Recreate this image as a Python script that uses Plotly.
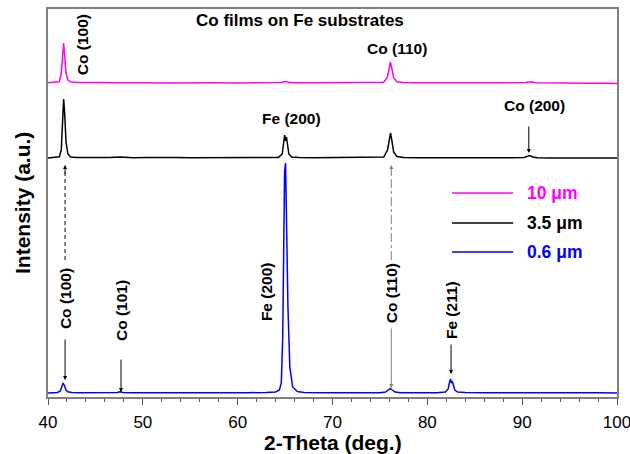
import plotly.graph_objects as go

# ---------------- data ----------------
series_names = ["10 μm", "3.5 μm", "0.6 μm"]
series_colors = ["#ff00ff", "#000000", "#0000ff"]
series_offsets = [310, 235, 0]

x_10um = [40, 40.5, 40.8, 41.2, 41.4, 41.55, 41.65, 41.75, 41.9, 42.1, 42.4, 43, 44, 45.5, 47, 48.5,
          50, 52, 54, 56, 58, 60, 62, 64, 64.6, 64.9, 65.1, 65.4, 66, 68, 70, 72, 74, 75.4, 75.8,
          76.0, 76.1, 76.25, 76.45, 76.8, 77.5, 79, 81, 83, 85, 87, 89, 90.3, 90.7, 91.0, 91.4,
          93, 95, 97, 99, 100]
y_10um = [4.2, 4.4, 4.5, 5.2, 14, 36, 44, 32, 14, 7, 5, 4.6, 4.3, 4.5, 4.2, 4.4,
          4.3, 4.1, 4.4, 4.2, 4.3, 4.1, 4.3, 4.2, 4.6, 5.2, 5.4, 4.7, 4.3, 4.2, 4.4, 4.1, 4.3, 4.8, 10,
          21, 25, 19, 9, 5.2, 4.5, 4.2, 4.3, 4.1, 4.2, 4.0, 4.1, 4.4, 5.0, 5.2, 4.3,
          4.0, 3.9, 3.8, 3.7, 3.6]

x_3p5um = [40, 40.5, 40.8, 41.2, 41.4, 41.55, 41.65, 41.75, 41.9, 42.1, 42.4, 43, 44, 45, 46.5, 47.6,
           49, 50.5, 52, 53.5, 55, 57, 59, 61, 63, 64.3, 64.7, 64.85, 64.95, 65.05, 65.15, 65.25,
           65.4, 65.7, 66.5, 68, 70, 72, 74, 75.4, 75.8, 76.0, 76.12, 76.25, 76.45, 76.8, 77.5,
           79, 81, 83, 85, 87, 89, 90.2, 90.6, 90.8, 91.1, 91.6, 93, 95, 97, 99, 100]
y_3p5um = [4.0, 4.3, 4.5, 5.2, 12, 40, 63, 50, 20, 8, 5, 4.5, 4.3, 4.8, 4.4, 4.9,
           4.3, 4.6, 4.2, 4.5, 4.3, 4.4, 4.2, 4.3, 4.4, 4.6, 8, 20, 27, 21, 25, 18,
           8, 5, 4.4, 4.2, 4.4, 4.2, 4.3, 5, 12, 24, 29, 22, 10, 5.5, 4.5,
           4.3, 4.2, 4.3, 4.1, 4.2, 4.3, 4.5, 6, 6.5, 5, 4.3, 4.1, 4.2, 4.0, 4.1, 4.0]

x_0p6um = [40, 40.5, 41.0, 41.3, 41.45, 41.6, 41.75, 41.9, 42.1, 42.5, 43.5, 45, 46.5, 47.3, 47.6,
           47.9, 49, 51, 53, 55, 57, 59, 61, 63, 64.0, 64.4, 64.6, 64.75, 64.85, 64.95, 65.05,
           65.15, 65.3, 65.5, 65.8, 66.3, 67, 69, 71, 73, 75, 75.6, 75.9, 76.1, 76.3, 76.6, 77.2,
           79, 81, 81.9, 82.2, 82.35, 82.45, 82.55, 82.65, 82.75, 82.9, 83.2, 84, 86, 88, 90,
           92, 94, 96, 98, 100]
y_0p6um = [4.0, 4.3, 4.5, 6, 10, 14, 11, 7, 5.2, 4.6, 4.2, 4.4, 4.3, 4.6, 5.2,
           4.6, 4.2, 4.1, 4.3, 4.5, 4.4, 4.2, 4.3, 4.5, 5, 7, 14, 60, 150, 226, 234,
           180, 90, 30, 10, 5.5, 4.6, 4.3, 4.2, 4.4, 4.3, 5, 7, 8.5, 7, 5, 4.3,
           4.2, 4.3, 5, 8, 15, 18, 14, 15, 12, 7, 5, 4.4, 4.2, 4.3, 4.1,
           4.2, 4.3, 4.1, 4.2, 4.0]

series_x = [x_10um, x_3p5um, x_0p6um]
series_y = [y_10um, y_3p5um, y_0p6um]

x_ticks = [40, 50, 60, 70, 80, 90, 100]

FONT = "Arial, 'Liberation Sans', Helvetica, sans-serif"
LBL = 15.5

fig = go.Figure()
for name, color, off, xs, ys in zip(series_names, series_colors, series_offsets, series_x, series_y):
    fig.add_trace(go.Scatter(x=xs, y=[v + off for v in ys], mode="lines", name=name,
                             line=dict(color=color, width=1.5), showlegend=False))

annotations = []
shapes = []

def txt(x, y, s, angle=0, size=LBL, color="black", xanchor="center", yanchor="middle"):
    annotations.append(dict(x=x, y=y, xref="x", yref="y", text="<b>%s</b>" % s, showarrow=False,
                            textangle=angle, font=dict(family=FONT, size=size, color=color),
                            xanchor=xanchor, yanchor=yanchor))

def arrow(x, y_head, y_tail, color="black"):
    annotations.append(dict(x=x, y=y_head, ax=x, ay=y_tail, xref="x", yref="y", axref="x", ayref="y",
                            text="", showarrow=True, arrowhead=2, arrowsize=0.8, arrowwidth=1,
                            arrowcolor=color))

def vline(x, y0, y1, color="black", dash="solid"):
    shapes.append(dict(type="line", xref="x", yref="y", x0=x, x1=x, y0=y0, y1=y1,
                       line=dict(color=color, width=1, dash=dash)))

# title
txt(66.6, 377, "Co films on Fe substrates", size=17)
# top-series labels
txt(43.6, 352, "Co (100)", angle=-90)
txt(76.8, 349, "Co (110)")
txt(65.7, 279, "Fe (200)")
txt(91.3, 292, "Co (200)")
arrow(90.7, 244, 272)

# Co (100) lower
vline(41.8, 137, 226, dash="4px,3px")
arrow(41.8, 232, 222)
txt(41.8, 98, "Co (100)", angle=-90)
arrow(41.8, 17, 59)
# Co (101)
txt(47.7, 86, "Co (101)", angle=-90)
arrow(47.7, 5, 39)
# Fe (200)
txt(63.0, 105, "Fe (200)", angle=-90)
# Co (110) lower
vline(76.2, 137, 226, color="#808080", dash="dashdot")
arrow(76.2, 232, 222, color="#808080")
txt(76.2, 104, "Co (110)", angle=-90)
arrow(76.2, 9, 70, color="#808080")
# Fe (211)
txt(82.5, 87, "Fe (211)", angle=-90)
arrow(82.5, 23, 54)

# legend (manual)
leg_y = [204, 174, 145]
for name, color, ly in zip(series_names, series_colors, leg_y):
    shapes.append(dict(type="line", xref="x", yref="y", x0=82.6, x1=89.05, y0=ly, y1=ly,
                       line=dict(color=color, width=1.5)))
    txt(90.3, ly, name, size=17.5, color=color, xanchor="left")

# y-axis title (placed as paper annotation)
annotations.append(dict(x=(22 - 48) / 569, y=0.5, xref="paper", yref="paper", showarrow=False,
                        text="<b>Intensity (a.u.)</b>", textangle=-90,
                        font=dict(family=FONT, size=21, color="black"),
                        xanchor="center", yanchor="middle"))
# x-axis title
annotations.append(dict(x=0.5, y=(397 - 442) / 388, xref="paper", yref="paper", showarrow=False,
                        text="<b>2-Theta (deg.)</b>",
                        font=dict(family=FONT, size=21, color="black"),
                        xanchor="center", yanchor="middle"))

fig.update_layout(
    width=630, height=454,
    margin=dict(l=48, r=13, t=9, b=57, autoexpand=False),
    paper_bgcolor="white", plot_bgcolor="white",
    annotations=annotations, shapes=shapes,
    font=dict(family=FONT, color="black"),
    xaxis=dict(range=[40, 100], tickvals=x_ticks, ticktext=[str(t) for t in x_ticks],
               ticks="outside", ticklen=6, tickwidth=1, ticklabeloverflow="allow",
               ticklabelstandoff=3, automargin=False,
               tickcolor="#555555",
               minor=dict(dtick=2, ticks="outside", ticklen=3, tickcolor="#555555"),
               showline=True, mirror=True, linecolor="#808080", linewidth=1.5,
               showgrid=False, zeroline=False,
               tickfont=dict(size=17, family=FONT, color="black")),
    yaxis=dict(range=[0, 388], showticklabels=False, ticks="", showline=True, mirror=True,
               automargin=False,
               linecolor="#808080", linewidth=1.5, showgrid=False, zeroline=False),
)

fig.write_html("out.html")
